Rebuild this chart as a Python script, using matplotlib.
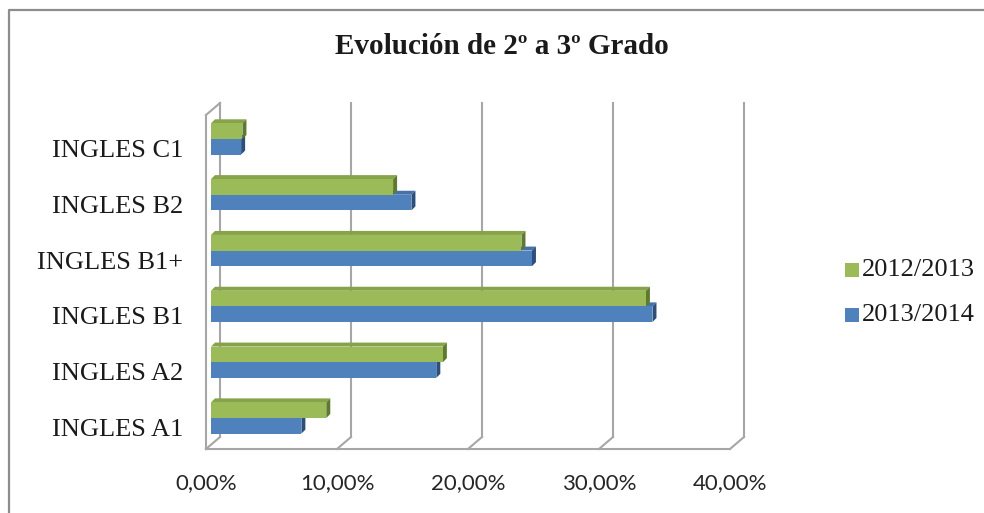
import matplotlib
matplotlib.use("Agg")
import matplotlib.pyplot as plt
import matplotlib.transforms as mtransforms
from matplotlib.patches import Rectangle, Polygon
from matplotlib.lines import Line2D

categories = ["INGLES A1", "INGLES A2", "INGLES B1", "INGLES B1+", "INGLES B2", "INGLES C1"]
serie_2012 = [8.8, 17.7, 33.2, 23.7, 13.9, 2.4]
serie_2013 = [6.9, 17.2, 33.7, 24.5, 15.3, 2.3]
ticks = [0, 10, 20, 30, 40]
tick_labels = ["0,00%", "10,00%", "20,00%", "30,00%", "40,00%"]

green, green_top, green_dk = "#9bbb59", "#86a34a", "#5f7a2e"
blue, blue_top, blue_dk = "#4f81bd", "#4672a8", "#2c4f7c"
grid_c = "#a6a6a6"

W, H = 984, 513
fig = plt.figure(figsize=(W / 100, H / 100), dpi=100)

# front plane of the 3D box: x 206..730 px, y 115..449 px
ax = fig.add_axes([206 / W, (H - 449) / H, 524 / W, 334 / H])
ax.set_xlim(0, 40)
ax.set_ylim(-0.394, 5.59)
ax.axis("off")

def off(dx, dy):
    return mtransforms.offset_copy(ax.transData, fig, x=dx, y=dy, units="dots")

back = off(14, 12)
front = ax.transData
ybot, ytop = -0.394, 5.59

def seg(p0, p1, z=1):
    ax.add_line(Line2D([p0[0], p1[0]], [p0[1], p1[1]], transform=None,
                       color=grid_c, lw=1.5, zorder=z, clip_on=False))

# walls / gridlines
for t in ticks:
    seg(back.transform((t, ybot)), back.transform((t, ytop)))
    seg(front.transform((t, ybot)), back.transform((t, ybot)))
seg(front.transform((0, ybot)), front.transform((40, ybot)))
seg(front.transform((0, ybot)), front.transform((0, ytop)))
seg(front.transform((0, ytop)), back.transform((0, ytop)))

# bars with a small extrusion (top and right faces)
h = 0.28
ypos = list(range(len(categories)))
bar_t = off(5, 9)
dx, dy = 4, 4
z = 3
for i, y in enumerate(ypos):
    for val, yc, c, ct, cd in [(serie_2013[i], y - h / 2, blue, blue_top, blue_dk),
                                (serie_2012[i], y + h / 2, green, green_top, green_dk)]:
        x0, y0 = bar_t.transform((0, yc - h / 2))
        x1, y1 = bar_t.transform((val, yc + h / 2))
        top = [(x0, y1), (x1, y1), (x1 + dx, y1 + dy), (x0 + dx, y1 + dy)]
        side = [(x1, y0), (x1 + dx, y0 + dy), (x1 + dx, y1 + dy), (x1, y1)]
        ax.add_patch(Polygon(top, closed=True, transform=None, facecolor=ct,
                             edgecolor="none", zorder=z, clip_on=False))
        ax.add_patch(Polygon(side, closed=True, transform=None, facecolor=cd,
                             edgecolor="none", zorder=z, clip_on=False))
        ax.add_patch(Rectangle((0, yc - h / 2), val, h, transform=bar_t,
                               facecolor=c, edgecolor="none", zorder=z + 0.5, clip_on=False))
        z += 1

# category labels
for y, lab in zip(ypos, categories):
    ax.text(-1.75, y, lab, ha="right", va="center", fontsize=19,
            family="Liberation Serif", color="#1a1a1a", transform=off(0, -3))

# tick labels
for t, lab in zip(ticks, tick_labels):
    ax.text(t, ybot, lab, ha="center", va="top", fontsize=16, family="Lato",
            color="#262626", transform=off(0, -24))

fig.text(502 / W, 1 - 47 / H, "Evolución de 2º a 3º Grado", ha="center", va="center",
         fontsize=21, fontweight="bold", family="Liberation Serif", color="#1a1a1a")

# legend
for yy, c, lab in [(270, green, "2012/2013"), (315, blue, "2013/2014")]:
    fig.patches.append(Rectangle((845 / W, 1 - (yy + 7) / H), 14 / W, 14 / H,
                                 transform=fig.transFigure, facecolor=c, edgecolor="none"))
    fig.text(862 / W, 1 - yy / H, lab, ha="left", va="center", fontsize=19,
             family="Liberation Serif", color="#1a1a1a")

# outer border (left and top)
fig.lines.append(Line2D([9 / W, 9 / W, 1], [0, 1 - 10 / H, 1 - 10 / H],
                        transform=fig.transFigure, color="#8c8c8c", lw=1.6))

fig.savefig("out.png", dpi=100, facecolor="white")
